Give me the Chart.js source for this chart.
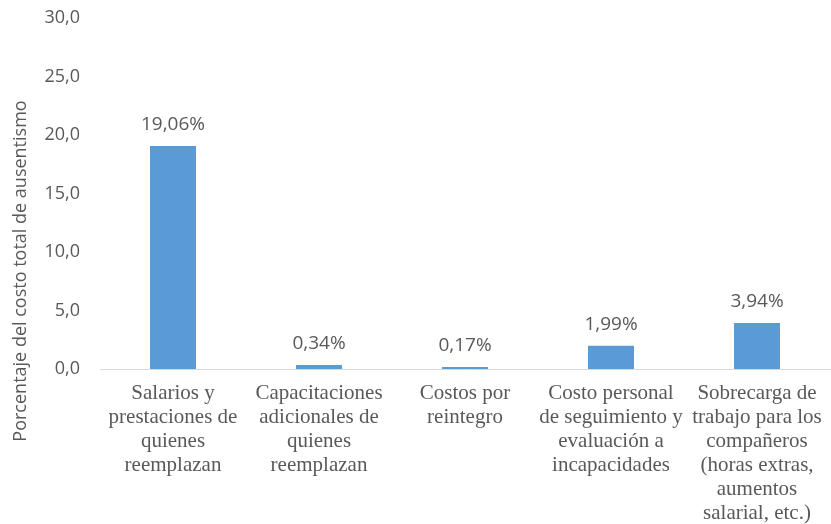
<!DOCTYPE html>
<html>
<head>
<meta charset="utf-8">
<script src="https://cdn.jsdelivr.net/npm/chart.js@4"></script>
<style>
  html, body { margin: 0; padding: 0; background: #fff; }
  #wrap { width: 831px; height: 524px; }
</style>
</head>
<body>
<div id="wrap"><canvas id="grafico"></canvas></div>
<script>
// Categorías (en varias líneas) y porcentajes
const categorias = [
    ['Salarios y', 'prestaciones de', 'quienes', 'reemplazan'],
    ['Capacitaciones', 'adicionales de', 'quienes', 'reemplazan'],
    ['Costos por', 'reintegro'],
    ['Costo personal', 'de seguimiento y', 'evaluación a', 'incapacidades'],
    ['Sobrecarga de', 'trabajo para los', 'compañeros', '(horas extras,', 'aumentos', 'salarial, etc.)']
];
const porcentajes = [19.06, 0.34, 0.17, 1.99, 3.94];
const ejeMin = 0;
const ejeMax = 30;
const ejePaso = 5;
const tituloEje = 'Porcentaje del costo total de ausentismo';

const GRIS = '#595959';
const AZUL = '#5B9BD5';
const SANS = '"Open Sans", sans-serif';

const coma = (v, d) => v.toFixed(d).replace('.', ',');

// etiquetas de valor encima de cada barra
const etiquetasValor = {
    id: 'etiquetasValor',
    afterDatasetsDraw(chart) {
        const ctx = chart.ctx;
        const meta = chart.getDatasetMeta(0);
        ctx.save();
        ctx.font = '19px ' + SANS;
        ctx.fillStyle = GRIS;
        ctx.textAlign = 'center';
        ctx.textBaseline = 'middle';
        meta.data.forEach((bar, i) => {
            ctx.fillText(coma(porcentajes[i], 2) + '%', bar.x, bar.y - 21);
        });
        ctx.restore();
    }
};

// título del eje Y, girado y desplazado hacia abajo
const tituloY = {
    id: 'tituloY',
    afterDraw(chart) {
        const ctx = chart.ctx;
        ctx.save();
        ctx.translate(21, 271);
        ctx.rotate(-Math.PI / 2);
        ctx.font = '18px ' + SANS;
        ctx.fillStyle = GRIS;
        ctx.textAlign = 'center';
        ctx.textBaseline = 'middle';
        ctx.fillText(tituloEje, 0, 0);
        ctx.restore();
    }
};

// quita el relleno que la escala calcula para sus etiquetas extremas
const sinRelleno = scale => {
    scale.paddingTop = 0;
    scale.paddingBottom = 0;
    scale.paddingLeft = 0;
    scale.paddingRight = 0;
};

new Chart(document.getElementById('grafico'), {
    type: 'bar',
    data: {
        labels: categorias,
        datasets: [{
            data: porcentajes,
            backgroundColor: AZUL,
            barPercentage: 0.315,
            categoryPercentage: 1
        }]
    },
    options: {
        responsive: true,
        maintainAspectRatio: false,
        animation: false,
        layout: { padding: { top: 18, right: 1, left: 0, bottom: 0 } },
        plugins: {
            legend: { display: false },
            tooltip: { enabled: false }
        },
        scales: {
            x: {
                grid: { display: false, drawTicks: false },
                border: { color: '#D9D9D9', width: 1 },
                ticks: {
                    color: GRIS,
                    padding: 12,
                    maxRotation: 0,
                    autoSkip: false,
                    font: { family: '"Liberation Serif", serif', size: 21, lineHeight: 1.15 }
                },
                afterFit(scale) { scale.height = 155; sinRelleno(scale); }
            },
            y: {
                min: ejeMin,
                max: ejeMax,
                grid: { display: false, drawTicks: false },
                border: { display: false },
                ticks: {
                    stepSize: ejePaso,
                    color: GRIS,
                    padding: 20,
                    font: { family: SANS, size: 18 },
                    callback: v => coma(v, 1)
                },
                afterFit(scale) { scale.width = 100; sinRelleno(scale); }
            }
        }
    },
    plugins: [etiquetasValor, tituloY]
});
</script>
</body>
</html>
